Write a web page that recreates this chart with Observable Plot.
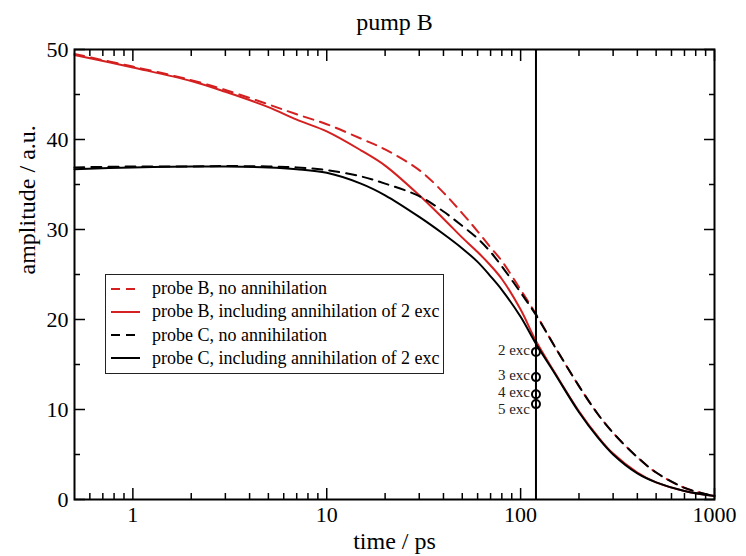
<!DOCTYPE html>
<html>
<head>
<meta charset="utf-8">
<script src="https://cdn.jsdelivr.net/npm/d3@7"></script>
<script src="https://cdn.jsdelivr.net/npm/@observablehq/plot@0.6"></script>
<style>
  html, body { margin: 0; padding: 0; background: #fff; }
  #wrap { position: relative; width: 746px; height: 556px; font-family: "Liberation Serif", "DejaVu Serif", serif; }
  #legend { position: absolute; left: 105px; top: 274px; width: 337px; height: 98px; border: 1.5px solid #222; background: #fff; }
  .row { position: absolute; left: 0; height: 23px; display: flex; align-items: center; font-size: 18px; color: #000; white-space: nowrap; }
  .row svg { margin-left: 5px; margin-right: 12px; }
</style>
</head>
<body>
<div id="wrap"></div>
<script>
// ---- data ----
const time = [0.5, 1, 2, 3, 5, 7, 10, 15, 20, 30, 40, 50, 60, 70, 80, 100, 120, 150, 200, 250, 300, 400, 500, 700, 1000];
const probeBNoAnn   = [49.5, 48.1, 46.6, 45.5, 43.9, 42.8, 41.7, 40.1, 38.9, 36.6, 34.1, 31.8, 29.8, 28.0, 26.5, 23.3, 20.6, 17.0, 12.6, 9.5, 7.4, 4.7, 3.0, 1.3, 0.35];
const probeBAnn     = [49.4, 48.0, 46.5, 45.3, 43.6, 42.2, 40.9, 38.8, 37.1, 33.8, 31.2, 29.1, 27.5, 26.0, 24.5, 21.1, 17.6, 14.1, 9.8, 7.0, 5.1, 3.0, 1.9, 0.95, 0.4];
const probeCNoAnn   = [36.9, 37.0, 37.0, 37.05, 37.0, 36.9, 36.6, 35.9, 35.1, 33.7, 32.0, 30.4, 29.0, 27.5, 25.9, 23.0, 20.5, 17.0, 12.6, 9.5, 7.4, 4.7, 3.0, 1.3, 0.35];
const probeCAnn     = [36.7, 36.9, 37.0, 37.0, 36.9, 36.7, 36.3, 35.1, 33.8, 31.4, 29.5, 27.9, 26.4, 24.8, 23.3, 20.3, 17.3, 14.0, 9.7, 6.9, 5.0, 2.9, 1.9, 0.95, 0.4];
const seriesNames = ["probe B, no annihilation", "probe B, including annihilation of 2 exc", "probe C, no annihilation", "probe C, including annihilation of 2 exc"];
const excLabels = ["2 exc", "3 exc", "4 exc", "5 exc"];
const excAmp = [16.4, 13.6, 11.7, 10.6];
const excTime = 120;
const xMajor = [1, 10, 100, 1000];
const xMinor = [0.6, 0.7, 0.8, 0.9, 2, 3, 4, 5, 6, 7, 8, 9, 20, 30, 40, 50, 60, 70, 80, 90, 200, 300, 400, 500, 600, 700, 800, 900];
const yMajor = [0, 10, 20, 30, 40, 50];
const yMinor = [5, 15, 25, 35, 45];

// ---- styles ----
const RED = "#d42020";
const DASH = "10,7";
const styles = [
  {stroke: RED, dash: DASH},
  {stroke: RED, dash: null},
  {stroke: "#000", dash: DASH},
  {stroke: "#000", dash: null}
];
const allValues = [probeBNoAnn, probeBAnn, probeCNoAnn, probeCAnn];
const rows = allValues.map(vals => time.map((t, i) => ({t, a: vals[i]})));
const excData = excLabels.map((label, i) => ({label, t: excTime, a: excAmp[i]}));
const lastIdx = excData.length - 1;

const tickMarks = [];
for (const anchor of ["bottom", "top"]) {
  tickMarks.push(Plot.axisX(xMajor, {anchor, tickSize: -11, tickFormat: () => "", strokeWidth: 1.5, label: null}));
  tickMarks.push(Plot.axisX(xMinor, {anchor, tickSize: -6, tickFormat: () => "", strokeWidth: 1.5, label: null}));
}
for (const anchor of ["left", "right"]) {
  tickMarks.push(Plot.axisY(yMajor, {anchor, tickSize: -11, tickFormat: () => "", strokeWidth: 1.5, label: null}));
  tickMarks.push(Plot.axisY(yMinor, {anchor, tickSize: -6, tickFormat: () => "", strokeWidth: 1.5, label: null}));
}

const chart = Plot.plot({
  width: 746,
  height: 556,
  marginLeft: 74,
  marginRight: 32,
  marginTop: 49,
  marginBottom: 57,
  style: {fontFamily: "'Liberation Serif', 'DejaVu Serif', serif", background: "#fff", color: "#000"},
  x: {type: "log", domain: [0.5, 1000]},
  y: {domain: [0, 50]},
  marks: [
    ...rows.map((data, i) => Plot.line(data, {
      x: "t", y: "a", stroke: styles[i].stroke, strokeWidth: 2,
      strokeDasharray: styles[i].dash, curve: "catmull-rom"
    })),
    Plot.ruleX([excTime], {stroke: "#000", strokeWidth: 2}),
    Plot.dot(excData, {x: "t", y: "a", r: 4, stroke: "#000", strokeWidth: 2, fill: "none"}),
    Plot.text(excData.slice(0, lastIdx), {x: "t", y: "a", text: "label", textAnchor: "end", dx: -6, dy: -2, fontSize: 15, fill: "#222"}),
    Plot.text(excData.slice(lastIdx), {x: "t", y: "a", text: "label", textAnchor: "end", dx: -6, dy: 5, fontSize: 15, fill: "#222"}),
    ...tickMarks,
    Plot.axisX(xMajor, {anchor: "bottom", tickSize: 0, tickPadding: 7, tickFormat: d => String(d), fontSize: 22, label: null}),
    Plot.axisY(yMajor, {anchor: "left", tickSize: 0, tickPadding: 6, tickFormat: d => String(d), fontSize: 22, label: null}),
    Plot.text(["pump B"], {frameAnchor: "top", dy: -27, fontSize: 24, lineAnchor: "middle"}),
    Plot.text(["time / ps"], {frameAnchor: "bottom", dy: 42, fontSize: 24, lineAnchor: "middle"}),
    Plot.text(["amplitude / a.u."], {frameAnchor: "left", dx: -47, rotate: -90, fontSize: 24, lineAnchor: "middle"}),
    Plot.frame({stroke: "#000", strokeWidth: 2})
  ]
});

const wrap = document.getElementById("wrap");
wrap.appendChild(chart);

// legend
const legend = document.createElement("div");
legend.id = "legend";
seriesNames.forEach((name, i) => {
  const row = document.createElement("div");
  row.className = "row";
  row.style.top = (2 + i * 23.3) + "px";
  const dash = styles[i].dash ? `stroke-dasharray="9,6"` : "";
  row.innerHTML = `<svg width="29" height="10"><line x1="0" y1="5" x2="29" y2="5" stroke="${styles[i].stroke}" stroke-width="2" ${dash}/></svg><span>${name}</span>`;
  legend.appendChild(row);
});
wrap.appendChild(legend);
</script>
</body>
</html>
